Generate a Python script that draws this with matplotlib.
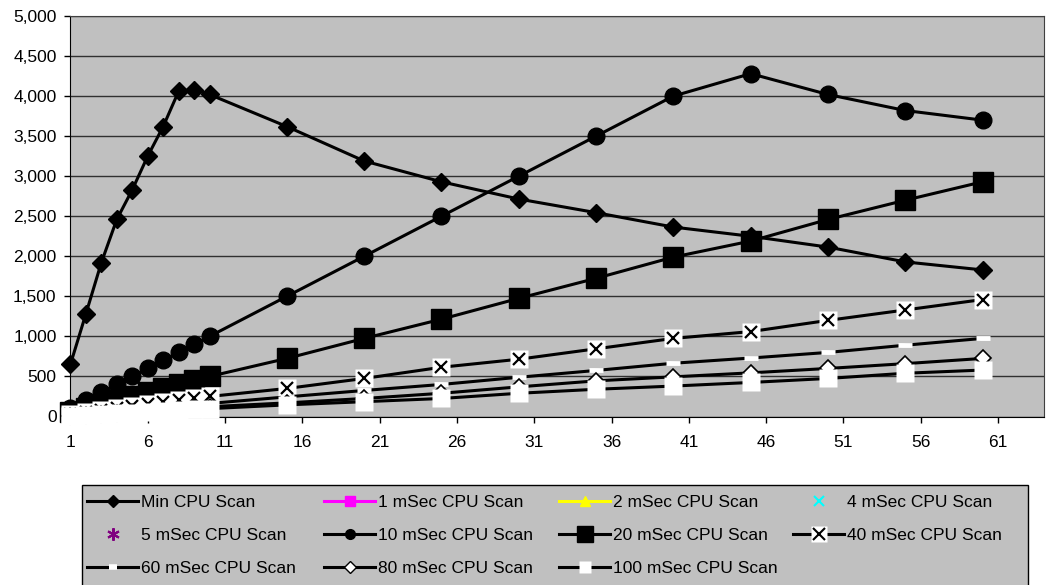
import matplotlib
matplotlib.use("Agg")
import matplotlib.pyplot as plt
from matplotlib.lines import Line2D
from matplotlib.patches import Rectangle
from matplotlib.ticker import FuncFormatter
from matplotlib.legend_handler import HandlerTuple

plt.rcParams["font.family"] = ["Liberation Sans", "DejaVu Sans"]

# scan number (x) and values for each series
# (1, 2, 4 and 5 mSec series have no visible points, only legend entries)
x = [1, 2, 3, 4, 5, 6, 7, 8, 9, 10, 15, 20, 25, 30, 35, 40, 45, 50, 55, 60]
min_cpu = [650, 1280, 1920, 2460, 2830, 3250, 3620, 4060, 4080, 4020,
           3620, 3190, 2930, 2715, 2545, 2365, 2250, 2115, 1930, 1830]
ms10 = [100, 200, 300, 400, 500, 600, 700, 800, 900, 1000,
        1500, 2000, 2500, 3000, 3500, 4000, 4280, 4020, 3820, 3700]
ms20 = [50, 100, 150, 200, 250, 300, 350, 400, 450, 500,
        725, 975, 1215, 1475, 1725, 1990, 2190, 2460, 2700, 2930]
ms40 = [25, 50, 75, 100, 125, 150, 175, 200, 225, 250,
        350, 475, 615, 715, 845, 975, 1060, 1200, 1330, 1460]
ms60 = [16, 33, 49, 65, 82, 98, 114, 130, 147, 163,
        245, 325, 400, 490, 575, 665, 730, 800, 890, 975]
ms80 = [12, 24, 37, 49, 61, 73, 85, 98, 110, 122,
        170, 225, 290, 370, 445, 495, 545, 600, 660, 725]
ms100 = [10, 20, 30, 39, 49, 59, 69, 78, 88, 98,
         145, 185, 225, 290, 340, 380, 425, 475, 540, 580]

x_ticks = [1, 6, 11, 16, 21, 26, 31, 36, 41, 46, 51, 56, 61]
y_ticks = [0, 500, 1000, 1500, 2000, 2500, 3000, 3500, 4000, 4500, 5000]

W, H = 1051, 585
fig = plt.figure(figsize=(W / 100, H / 100), dpi=100)
ax = fig.add_axes([70.4 / W, 1 - 416.5 / H, 974 / W, 400.5 / H])
ax.set_facecolor("#C0C0C0")

lw = 2.2
kw = dict(color="black", lw=lw, clip_on=False, zorder=3)
ax.plot(x, min_cpu, marker="D", ms=9, mfc="black", mec="black", **kw)
ax.plot(x, ms10, marker="o", ms=12, mfc="black", mec="black", **kw)
ax.plot(x, ms20, marker="s", ms=14, mfc="black", mec="black", **kw)
ax.plot(x, ms40, marker="s", ms=13.5, mfc="white", mec="none", **kw)
ax.plot(x, ms40, ls="none", marker="x", ms=9, mew=1.6, color="black",
        clip_on=False, zorder=3)
ax.plot(x, ms60, marker="_", ms=10, mew=3.5, mec="white", **kw)
ax.plot(x, ms80, marker="D", ms=8, mfc="white", mec="black", mew=1.2, **kw)
ax.plot(x, ms100, marker="s", ms=13, mfc="white", mec="none", **kw)

ax.set_xlim(1, 64)
ax.set_ylim(0, 5000)
ax.set_xticks(x_ticks)
ax.set_yticks(y_ticks)
ax.yaxis.set_major_formatter(FuncFormatter(lambda v, p: f"{v:,.0f}"))
ax.tick_params(axis="both", direction="out", length=4, width=1,
               labelsize=12.5, color="black")
ax.tick_params(axis="y", pad=6)
ax.tick_params(axis="x", pad=9)
ax.set_axisbelow(True)
ax.yaxis.grid(True, color="#303030", lw=1)
for side in ["top", "right"]:
    ax.spines[side].set_color("#404040")
for side in ["left", "bottom"]:
    ax.spines[side].set_color("black")

# legend proxies (smaller markers like the original legend)
h_min = Line2D([], [], color="black", lw=lw, marker="D", ms=6)
h1 = Line2D([], [], color="#FF00FF", lw=lw, marker="s", ms=7)
h2 = Line2D([], [], color="#FFFF00", lw=lw, marker="^", ms=7)
h4 = Line2D([], [], color="#00FFFF", ls="none", marker="x", ms=7, mew=1.5)
h5 = Line2D([], [], color="#800080", ls="none", marker=(6, 2, 0), ms=9, mew=1.5)
h10 = Line2D([], [], color="black", lw=lw, marker="o", ms=7)
h20 = Line2D([], [], color="black", lw=lw, marker="s", ms=11)
h40a = Line2D([], [], color="black", lw=lw, marker="s", ms=11, mfc="white", mec="none")
h40b = Line2D([], [], color="black", ls="none", marker="x", ms=8, mew=1.5)
h60 = Line2D([], [], color="black", lw=lw, marker="_", ms=6, mew=4, mec="white")
h80 = Line2D([], [], color="black", lw=lw, marker="D", ms=6, mfc="white", mec="black", mew=1)
h100 = Line2D([], [], color="black", lw=lw, marker="s", ms=8.5, mfc="white", mec="none")

columns = [
    ([h_min, h5, h60], ["Min CPU Scan", "5 mSec CPU Scan", "60 mSec CPU Scan"]),
    ([h1, h10, h80], ["1 mSec CPU Scan", "10 mSec CPU Scan", "80 mSec CPU Scan"]),
    ([h2, h20, h100], ["2 mSec CPU Scan", "20 mSec CPU Scan", "100 mSec CPU Scan"]),
    ([h4, (h40a, h40b)], ["4 mSec CPU Scan", "40 mSec CPU Scan"]),
]
col_x = [87, 324, 559, 793]

# legend box
fig.patches.append(Rectangle((82 / W, -0.05), (1028 - 82) / W, 1 - 485 / H + 0.05,
                             transform=fig.transFigure, facecolor="#C0C0C0",
                             edgecolor="black", lw=1.0, zorder=0))

for (hs, ls), cx in zip(columns, col_x):
    fig.legend(hs, ls, loc="upper left", bbox_to_anchor=(cx / W, 1 - 495 / H),
               fontsize=12.5, frameon=False, handlelength=2.94,
               handletextpad=0.15, labelspacing=1.02, borderpad=0,
               borderaxespad=0, handler_map={tuple: HandlerTuple(ndivide=1)})

fig.savefig("out.png", dpi=100)
